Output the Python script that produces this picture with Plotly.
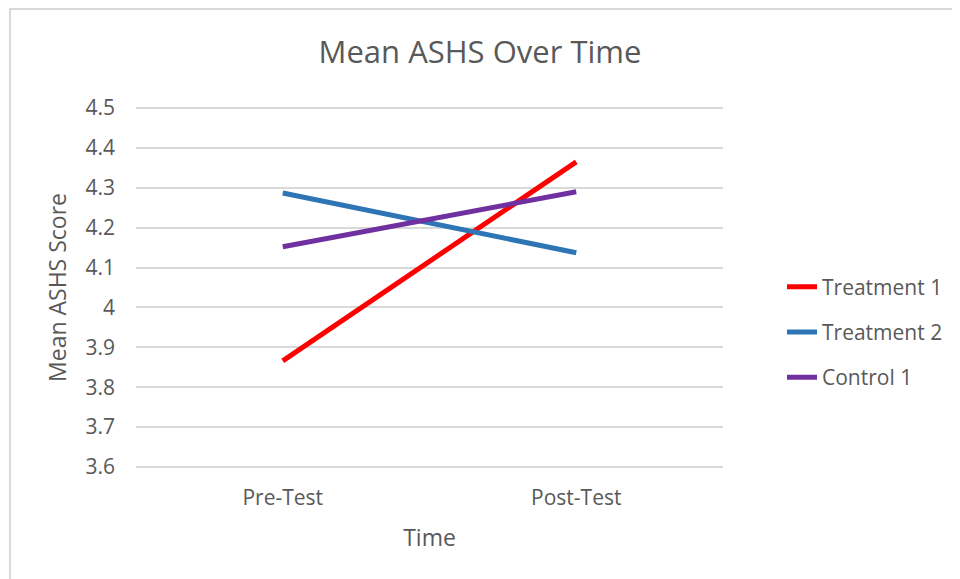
import plotly.graph_objects as go

categories = ["Pre-Test", "Post-Test"]
treatment1 = [3.866, 4.365]
treatment2 = [4.287, 4.137]
control1 = [4.152, 4.290]
series_names = ["Treatment 1", "Treatment 2", "Control 1"]
series_colors = ["#FF0000", "#2E75B6", "#7030A0"]
y_ticks = [3.6, 3.7, 3.8, 3.9, 4.0, 4.1, 4.2, 4.3, 4.4, 4.5]
y_tick_labels = ["3.6", "3.7", "3.8", "3.9", "4", "4.1", "4.2", "4.3", "4.4", "4.5"]

FONT = "'Open Sans', 'Noto Sans', sans-serif"
GREY = "#595959"

fig = go.Figure()
for i, (name, vals, col) in enumerate(zip(series_names, [treatment1, treatment2, control1], series_colors)):
    fig.add_trace(go.Scatter(
        x=categories, y=vals, name=name, mode="lines",
        line=dict(color=col, width=5), legendgroup=f"g{i}",
    ))

# page body has 8px margin; figure coords = screen coords - 8
OFF = 8
W, H = 952, 571
PAD = 2  # px of padding so end gridlines are drawn
L, T = 136 - OFF, 108 - OFF - PAD
R, B = W - (723 - OFF), H - (467 - OFF + PAD)
pw, ph = W - L - R, H - T - B
ypad = 0.1 * PAD / 39.9

fig.update_layout(
    width=W, height=H,
    margin=dict(l=L, r=R, t=T, b=B),
    paper_bgcolor="white", plot_bgcolor="white",
    font=dict(family=FONT, color=GREY, size=16),
    title=dict(text="Mean ASHS Over Time", x=(480 - OFF) / W, xanchor="center",
               y=1 - (52 - OFF) / H, yanchor="middle",
               font=dict(size=31, color=GREY, family=FONT)),
    xaxis=dict(
        type="category", showgrid=False, zeroline=False, showline=False,
        ticks="", tickfont=dict(size=21, color=GREY), ticklabelstandoff=14,
        title=dict(text="Time", font=dict(size=23, color=GREY), standoff=19),
        range=[-0.5, 1.5],
    ),
    yaxis=dict(
        range=[3.6 - ypad, 4.5 + ypad], tickvals=y_ticks, ticktext=y_tick_labels,
        showgrid=True, gridcolor="#D9D9D9", gridwidth=1.5,
        zeroline=False, showline=False, ticks="",
        tickfont=dict(size=21, color=GREY), ticklabelstandoff=20,
        title=dict(text="Mean ASHS Score", font=dict(size=23, color=GREY), standoff=12),
    ),
    legend=dict(
        x=(782 - OFF - L) / pw, xanchor="left", y=(467 - 330) / ph, yanchor="middle",
        font=dict(size=21, color=GREY), tracegroupgap=15,
        bgcolor="rgba(0,0,0,0)",
    ),
    showlegend=True,
    shapes=[dict(
        type="rect", xref="paper", yref="paper",
        x0=(10 - OFF - L) / pw, x1=(990 - OFF - L) / pw,
        y0=(467 - 620) / ph, y1=(467 - 9 + PAD) / ph,
        line=dict(color="#D9D9D9", width=2), fillcolor="rgba(0,0,0,0)", layer="below",
    )],
)

fig.write_html("out.html")
